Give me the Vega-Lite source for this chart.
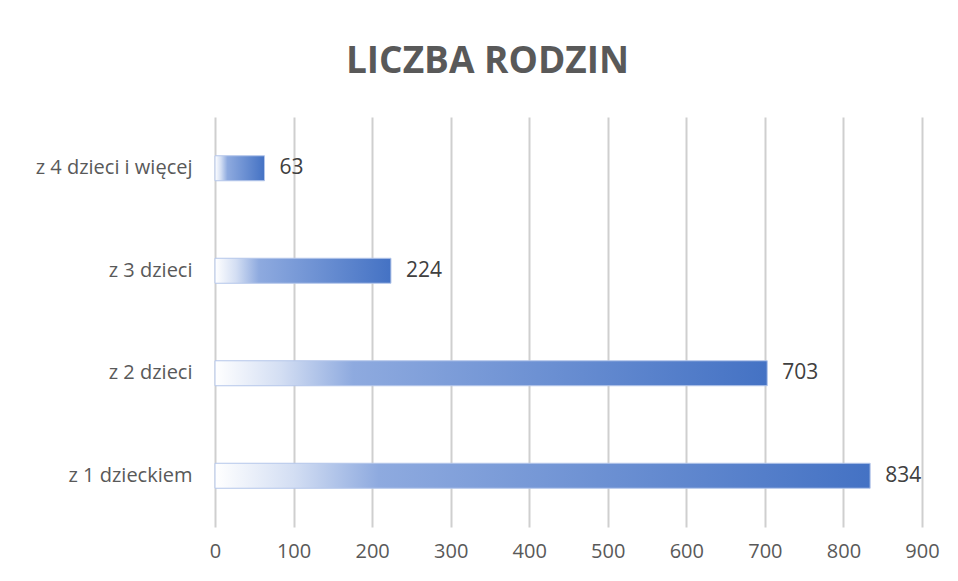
{
  "$schema": "https://vega.github.io/schema/vega-lite/v6.json",
  "autosize": "none",
  "width": 707,
  "height": 410,
  "padding": {"left": 215, "top": 117, "right": 36, "bottom": 54},
  "background": "white",
  "title": {
    "text": "LICZBA RODZIN",
    "font": "Open Sans",
    "fontSize": 37,
    "fontWeight": "bold",
    "color": "#595959",
    "anchor": "middle",
    "dx": -81,
    "baseline": "alphabetic",
    "offset": 7
  },
  "data": {
    "values": [
      {"kategoria": "z 4 dzieci i więcej", "liczba": 63},
      {"kategoria": "z 3 dzieci", "liczba": 224},
      {"kategoria": "z 2 dzieci", "liczba": 703},
      {"kategoria": "z 1 dzieckiem", "liczba": 834}
    ]
  },
  "encoding": {
    "y": {
      "field": "kategoria",
      "type": "nominal",
      "sort": null,
      "title": null,
      "axis": {
        "domain": false,
        "ticks": false,
        "grid": false,
        "labelFont": "Open Sans",
        "labelFontSize": 20,
        "labelColor": "#595959",
        "labelPadding": 23
      }
    },
    "x": {
      "field": "liczba",
      "type": "quantitative",
      "title": null,
      "scale": {"domain": [0, 900], "nice": false},
      "axis": {
        "values": [0, 100, 200, 300, 400, 500, 600, 700, 800, 900],
        "domain": false,
        "ticks": false,
        "grid": true,
        "gridColor": "#cfcfcf",
        "gridWidth": 2,
        "labelFlush": false,
        "labelFont": "Open Sans",
        "labelFontSize": 20,
        "labelColor": "#595959",
        "labelPadding": 14
      }
    }
  },
  "layer": [
    {
      "mark": {
        "type": "bar",
        "size": 25,
        "stroke": "#b4c6ea",
        "strokeWidth": 1,
        "color": {
          "gradient": "linear",
          "x1": 0, "y1": 0, "x2": 1, "y2": 0,
          "stops": [
            {"offset": 0, "color": "#ffffff"},
            {"offset": 0.12, "color": "#d3def3"},
            {"offset": 0.25, "color": "#8eaadf"},
            {"offset": 1, "color": "#4472c4"}
          ]
        }
      }
    },
    {
      "mark": {
        "type": "text",
        "align": "left",
        "dx": 15,
        "font": "Open Sans",
        "fontSize": 21,
        "color": "#404040"
      },
      "encoding": {"text": {"field": "liczba", "type": "quantitative"}}
    }
  ],
  "config": {"view": {"stroke": null}}
}
